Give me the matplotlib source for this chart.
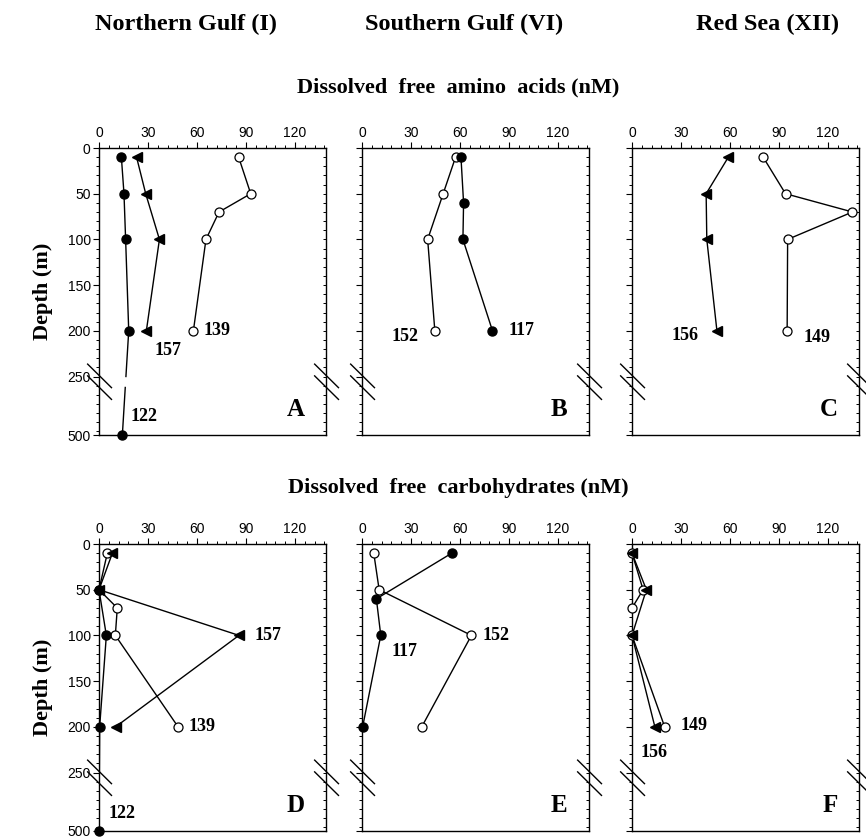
import matplotlib
matplotlib.use("Agg")
import matplotlib.pyplot as plt
from matplotlib.ticker import MultipleLocator, FixedLocator
import numpy as np

plt.rcParams['font.family'] = ['Liberation Sans', 'DejaVu Sans']

# ---------------- data (x in nM, depth in m) ----------------
# A: Northern Gulf, amino acids
dep_a_122 = [10, 50, 100, 200, 500]
val_a_122 = [13.7, 15.3, 16.3, 18.2, 14.3]
dep_a_157 = [10, 50, 100, 200]
val_a_157 = [23, 28.6, 37, 29]
dep_a_139 = [10, 50, 70, 100, 200]
val_a_139 = [85.5, 92.9, 73.5, 65.5, 57.8]

# B: Southern Gulf, amino acids
dep_b_117 = [10, 60, 100, 200]
val_b_117 = [60.6, 62.2, 61.8, 79.9]
dep_b_152 = [10, 50, 100, 200]
val_b_152 = [57.3, 49.7, 40.2, 44.6]

# C: Red Sea, amino acids
dep_c_156 = [10, 50, 100, 200]
val_c_156 = [59, 45.4, 45.8, 52]
dep_c_149 = [10, 50, 70, 100, 200]
val_c_149 = [80.3, 94, 135, 95.3, 95]

# D: Northern Gulf, carbohydrates
dep_d_122 = [50, 100, 200, 500]
val_d_122 = [0, 4.5, 0.4, 0]
dep_d_157 = [10, 50, 100, 200]
val_d_157 = [8.2, 0, 85.7, 10.2]
dep_d_139 = [10, 50, 70, 100, 200]
val_d_139 = [5.1, 0, 11.2, 10, 48.4]

# E: Southern Gulf, carbohydrates
dep_e_117 = [10, 60, 100, 200]
val_e_117 = [55, 8.8, 11.5, 0.4]
dep_e_152 = [10, 50, 100, 200]
val_e_152 = [7.2, 10.5, 67, 36.6]

# F: Red Sea, carbohydrates
dep_f_149 = [10, 50, 70, 100, 200]
val_f_149 = [0, 6.8, 0, 0, 20]
dep_f_156 = [10, 50, 100, 200]
val_f_156 = [0, 8.8, 0, 14]

# station labels: (text, x, depth)
lab_a = [("139", 64, 200), ("157", 34, 222), ("122", 19, 420)]
lab_b = [("152", 18, 206), ("117", 90, 200)]
lab_c = [("156", 24, 205), ("149", 105, 207)]
lab_d = [("157", 95, 100), ("139", 55, 200), ("122", 6, 425)]
lab_e = [("152", 74, 100), ("117", 18, 118)]
lab_f = [("149", 30, 199), ("156", 5, 228)]

depth_ticks = [0, 50, 100, 150, 200, 250, 500]
x_ticks = [0, 30, 60, 90, 120]

# depth axis is broken: 250-500 m squeezed
BRK = 250.0
SQZ = 64.0 / 250.0


def yc(d):
    d = np.asarray(d, dtype=float)
    return np.where(d <= BRK, d, BRK + (d - BRK) * SQZ)


def profile(ax, val, dep, kind):
    y = yc(dep)
    x = np.asarray(val, dtype=float)
    # line with a small gap at the axis break
    if y.max() > BRK:
        g0, g1 = BRK, BRK + 12
        xa = np.interp(g0, y, x)
        xb = np.interp(g1, y, x)
        m1 = y < g0
        m2 = y > g1
        ax.plot(np.r_[x[m1], xa], np.r_[y[m1], g0], color='k', lw=1.0, zorder=2)
        ax.plot(np.r_[xb, x[m2]], np.r_[g1, y[m2]], color='k', lw=1.0, zorder=2)
    else:
        ax.plot(x, y, color='k', lw=1.0, zorder=2)
    if kind == 'filled':
        ax.plot(x, y, 'o', ms=6.5, mfc='k', mec='k', zorder=3, clip_on=False)
    elif kind == 'open':
        ax.plot(x, y, 'o', ms=6.5, mfc='white', mec='k', mew=0.9, zorder=3, clip_on=False)
    else:
        ax.plot(x, y, '<', ms=7, mfc='k', mec='k', zorder=4, clip_on=False)


def setup(ax, letter, labels, show_ylab):
    ax.set_xlim(0, 139)
    ax.set_ylim(yc(500), 0)
    ax.xaxis.set_ticks_position('top')
    ax.set_xticks(x_ticks)
    ax.xaxis.set_minor_locator(MultipleLocator(6))
    ax.tick_params(axis='x', which='major', direction='out', length=4, width=0.8,
                   labelsize=10, pad=2, top=True, bottom=False, labeltop=True, labelbottom=False)
    ax.tick_params(axis='x', which='minor', direction='out', length=2, width=0.7,
                   top=True, bottom=False)
    ax.set_yticks(yc(depth_ticks))
    ax.yaxis.set_minor_locator(MultipleLocator(10))
    ax.tick_params(axis='y', which='major', direction='out', length=4, width=0.8,
                   labelsize=10, pad=2, right=False)
    ax.tick_params(axis='y', which='minor', direction='out', length=2, width=0.7, right=False)
    if show_ylab:
        ax.set_yticklabels([str(t) for t in depth_ticks])
        ax.set_ylabel("Depth (m)", family='Liberation Serif', fontweight='bold',
                      fontsize=16, labelpad=10)
    else:
        ax.set_yticklabels([])
    # inward ticks on the right spine
    sec = ax.secondary_yaxis('right')
    sec.yaxis.set_major_locator(FixedLocator([]))
    sec.yaxis.set_minor_locator(MultipleLocator(10))
    sec.tick_params(which='minor', direction='in', length=2.5, width=0.7)
    sec.spines['right'].set_visible(False)
    for s in ax.spines.values():
        s.set_linewidth(1.0)
    # break marks
    for xs in (0.0, 1.0):
        for y0 in (0.247, 0.206):
            ax.plot([xs - 0.05, xs + 0.055], [y0, y0 - 0.082], color='k', lw=1.0,
                    transform=ax.transAxes, clip_on=False, zorder=5)
    for txt, x, d in labels:
        ax.text(x, yc(d), txt, ha='left', va='center', family='Liberation Serif',
                fontweight='bold', fontsize=13)
    ax.text(0.905, 0.05, letter, transform=ax.transAxes, ha='right', va='bottom',
            family='Liberation Serif', fontweight='bold', fontsize=18)


fig = plt.figure(figsize=(8.66, 8.39), dpi=100)
lefts = [99 / 866, 362 / 866, 632 / 866]
w = 227 / 866
h = 287 / 839
b_top = 1 - 435 / 839
b_bot = 1 - 831 / 839

axA = fig.add_axes([lefts[0], b_top, w, h])
axB = fig.add_axes([lefts[1], b_top, w, h])
axC = fig.add_axes([lefts[2], b_top, w, h])
axD = fig.add_axes([lefts[0], b_bot, w, h])
axE = fig.add_axes([lefts[1], b_bot, w, h])
axF = fig.add_axes([lefts[2], b_bot, w, h])

profile(axA, val_a_122, dep_a_122, 'filled')
profile(axA, val_a_157, dep_a_157, 'tri')
profile(axA, val_a_139, dep_a_139, 'open')
setup(axA, "A", lab_a, True)

profile(axB, val_b_152, dep_b_152, 'open')
profile(axB, val_b_117, dep_b_117, 'filled')
setup(axB, "B", lab_b, False)

profile(axC, val_c_149, dep_c_149, 'open')
profile(axC, val_c_156, dep_c_156, 'tri')
setup(axC, "C", lab_c, False)

profile(axD, val_d_139, dep_d_139, 'open')
profile(axD, val_d_157, dep_d_157, 'tri')
profile(axD, val_d_122, dep_d_122, 'filled')
setup(axD, "D", lab_d, True)

profile(axE, val_e_152, dep_e_152, 'open')
profile(axE, val_e_117, dep_e_117, 'filled')
setup(axE, "E", lab_e, False)

profile(axF, val_f_149, dep_f_149, 'open')
profile(axF, val_f_156, dep_f_156, 'tri')
setup(axF, "F", lab_f, False)

# headers
hdr = dict(family='Liberation Serif', fontweight='bold', fontsize=17.5, va='baseline', ha='center')
fig.text(186 / 866, 1 - 30 / 839, "Northern Gulf (I)", **hdr)
fig.text(464 / 866, 1 - 30 / 839, "Southern Gulf (VI)", **hdr)
fig.text(768 / 866, 1 - 30 / 839, "Red Sea (XII)", **hdr)

sub = dict(family='Liberation Serif', fontweight='bold', fontsize=16, va='baseline', ha='center')
fig.text(458 / 866, 1 - 92 / 839, "Dissolved  free  amino  acids (nM)", **sub)
fig.text(458 / 866, 1 - 493 / 839, "Dissolved  free  carbohydrates (nM)", **sub)

fig.savefig("out.png", dpi=100)
